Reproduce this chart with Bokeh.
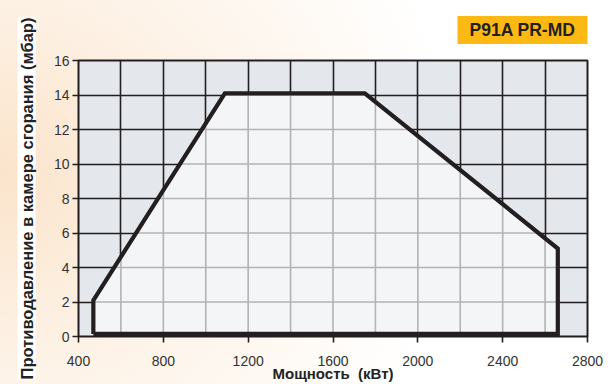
import numpy as np
from bokeh.plotting import figure
from bokeh.models import SingleIntervalTicker, Range1d, Title
from bokeh.embed import file_html
from bokeh.resources import INLINE

# ---- data ----
power_kw = [470, 470, 1090, 1750, 2660, 2660]
pressure_mbar = [0.15, 2.1, 14.1, 14.1, 5.1, 0.15]
x_ticks = [400, 800, 1200, 1600, 2000, 2400, 2800]
y_ticks = [0, 2, 4, 6, 8, 10, 12, 14, 16]
title_text = "P91A PR-MD"
x_label = "Мощность\u00a0\u00a0(кВт)"
y_label = "Противодавление в камере сгорания (мбар)"

DARK = "#231f20"
FONT = "Liberation Sans"

p = figure(width=611, height=384, output_backend="svg", toolbar_location=None,
           x_range=Range1d(400, 2800), y_range=Range1d(0, 16),
           min_border_left=78, min_border_right=24, min_border_top=60, min_border_bottom=48)
p.styles = {"background": "radial-gradient(ellipse 75% 110% at 0% 45%, #fbe4cb 0%, #fdf1e4 40%, #ffffff 100%)"}
p.border_fill_color = None
p.background_fill_color = "#e4e7eb"
p.outline_line_color = DARK
p.outline_line_width = 2

p.xgrid.ticker = SingleIntervalTicker(interval=200)
p.ygrid.ticker = SingleIntervalTicker(interval=2)
for g in (p.xgrid, p.ygrid):
    g.grid_line_color = DARK
    g.grid_line_width = 1.6

p.xaxis.ticker = x_ticks
p.yaxis.ticker = y_ticks
for ax in (p.xaxis, p.yaxis):
    ax.axis_line_color = None
    ax.major_tick_line_color = DARK
    ax.major_tick_line_width = 1.6
    ax.major_tick_out = 6
    ax.major_tick_in = 0
    ax.minor_tick_line_color = None
    ax.major_label_text_font = FONT
    ax.major_label_text_font_size = "14px"
    ax.major_label_text_color = "#333333"
p.xaxis.major_label_standoff = 13
p.yaxis.major_label_standoff = 3
p.xaxis.axis_label = x_label
p.xaxis.axis_label_text_font = FONT
p.xaxis.axis_label_text_font_style = "bold"
p.xaxis.axis_label_text_font_size = "15px"
p.xaxis.axis_label_text_color = "#222222"
p.xaxis.axis_label_standoff = -4

# polygon fill
p.patch(power_kw, pressure_mbar, fill_color="#f4f5f7", line_color=None)

# light grid inside the envelope
xs_poly = power_kw + [power_kw[0]]
ys_poly = pressure_mbar + [pressure_mbar[0]]

def span_at(val, along_x):
    hits = []
    for i in range(len(xs_poly) - 1):
        x1, y1, x2, y2 = xs_poly[i], ys_poly[i], xs_poly[i + 1], ys_poly[i + 1]
        if along_x:
            if x1 != x2 and min(x1, x2) <= val <= max(x1, x2):
                hits.append(y1 + (val - x1) * (y2 - y1) / (x2 - x1))
        else:
            if y1 != y2 and min(y1, y2) <= val <= max(y1, y2):
                hits.append(x1 + (val - y1) * (x2 - x1) / (y2 - y1))
    return (min(hits), max(hits)) if len(hits) >= 2 else None

seg_x0, seg_y0, seg_x1, seg_y1 = [], [], [], []
for gx in np.arange(600, 2800, 200):
    s = span_at(gx, True)
    if s:
        seg_x0.append(gx); seg_x1.append(gx); seg_y0.append(s[0]); seg_y1.append(s[1])
for gy in np.arange(2, 16, 2):
    s = span_at(gy, False)
    if s:
        seg_y0.append(gy); seg_y1.append(gy); seg_x0.append(s[0]); seg_x1.append(s[1])
p.segment(seg_x0, seg_y0, seg_x1, seg_y1, line_color="#b3b3b3", line_width=1.6)

# envelope outline
p.line(xs_poly, ys_poly, line_color=DARK, line_width=4.2, line_join="miter")

# title badge above the frame
p.add_layout(Title(text=title_text, align="right", vertical_align="top", text_font=FONT,
                   text_font_style="bold", text_font_size="17.5px", text_color="#231f20",
                   background_fill_color="#fdb913", padding=dict(x=12, y=4), standoff=29), "above")

# y axis label as a side title with white background
p.add_layout(Title(text=y_label, align="center", text_font=FONT, text_font_style="bold",
                   text_font_size="16.5px", text_color="#222222", background_fill_color="#ffffff",
                   standoff=30), "left")

open("out.html", "w").write(file_html(p, INLINE))
